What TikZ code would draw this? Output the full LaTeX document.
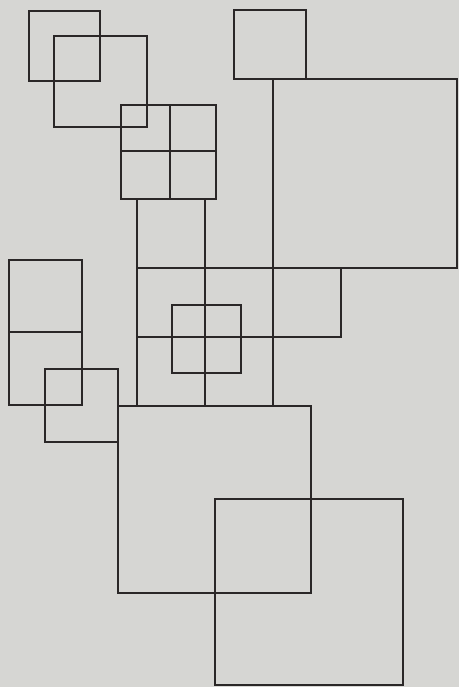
\documentclass[tikz,border=0pt]{standalone}
\definecolor{paper}{HTML}{D6D6D3}
\definecolor{ink}{HTML}{2A2727}
\begin{document}
\begin{tikzpicture}[x=1pt,y=-1pt, sq/.style={draw=ink, line width=2.9pt, line join=miter, line cap=rect}]
\fill[paper] (0,0) rectangle (459,687);
\useasboundingbox (0,0) rectangle (459,687);
% top-left overlapping squares
\draw[sq] (29,11) rectangle (100,81);
\draw[sq] (54,36) rectangle (147,127);
% four-pane square
\draw[sq] (121,105) rectangle (216,199);
\draw[sq] (121,151) -- (216,151);
\draw[sq] (170,105) -- (170,199);
% top-right squares
\draw[sq] (234,10) rectangle (306,79);
\draw[sq] (273,79) rectangle (457,268);
% central lattice
\draw[sq] (137,199) -- (137,406);
\draw[sq] (205,199) -- (205,406);
\draw[sq] (273,268) -- (273,406);
\draw[sq] (137,268) rectangle (341,337);
\draw[sq] (172,305) rectangle (241,373);
% left rectangle and square
\draw[sq] (9,260) rectangle (82,405);
\draw[sq] (9,332) -- (82,332);
\draw[sq] (45,369) rectangle (118,442);
% bottom squares
\draw[sq] (118,406) rectangle (311,593);
\draw[sq] (215,499) rectangle (403,685);
\end{tikzpicture}
\end{document}
